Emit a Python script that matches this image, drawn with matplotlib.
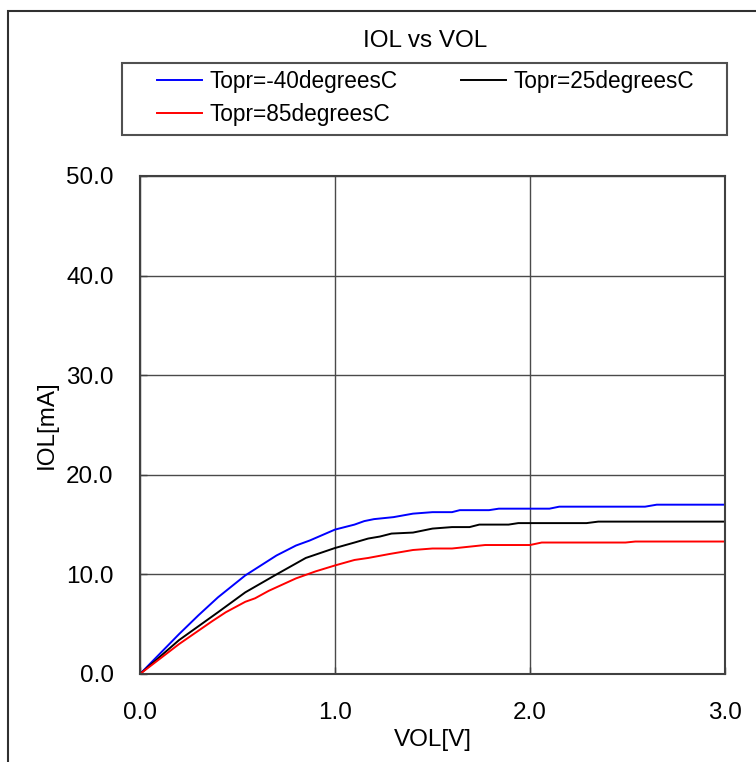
import matplotlib
matplotlib.use("Agg")
import matplotlib.pyplot as plt
from matplotlib.patches import Rectangle
from matplotlib.ticker import FormatStrFormatter

plt.rcParams['font.family'] = ['Liberation Sans', 'DejaVu Sans']

# Data
v_m40 = [0, 0.1, 0.2, 0.3, 0.4, 0.54, 0.7, 0.8, 0.87, 1.0, 1.1, 1.15, 1.2, 1.3,
         1.4, 1.5, 1.6, 1.64, 1.79, 1.84, 2.1, 2.15, 2.59, 2.65, 3.0]
i_m40 = [0, 2.0, 4.0, 5.9, 7.7, 9.9, 11.9, 12.9, 13.4, 14.5, 15.0, 15.35, 15.55, 15.75,
         16.1, 16.25, 16.25, 16.45, 16.45, 16.6, 16.6, 16.8, 16.8, 17.0, 17.0]

v_25 = [0, 0.2, 0.4, 0.54, 0.7, 0.85, 1.0, 1.1, 1.17, 1.23, 1.29, 1.4, 1.5, 1.6,
        1.69, 1.74, 1.89, 1.94, 2.29, 2.35, 3.0]
i_25 = [0, 3.4, 6.2, 8.2, 10.0, 11.65, 12.65, 13.2, 13.6, 13.8, 14.1, 14.2, 14.6, 14.75,
        14.75, 15.0, 15.0, 15.15, 15.15, 15.3, 15.3]

v_85 = [0, 0.2, 0.37, 0.44, 0.54, 0.59, 0.66, 0.8, 0.9, 1.0, 1.1, 1.17, 1.28, 1.4,
        1.5, 1.6, 1.77, 2.0, 2.06, 2.49, 2.54, 3.0]
i_85 = [0, 3.0, 5.3, 6.2, 7.25, 7.6, 8.35, 9.6, 10.3, 10.9, 11.45, 11.65, 12.05, 12.45,
        12.6, 12.6, 12.95, 12.95, 13.2, 13.2, 13.3, 13.3]

labels = ["Topr=-40degreesC", "Topr=25degreesC", "Topr=85degreesC"]
x_ticks = [0.0, 1.0, 2.0, 3.0]
y_ticks = [0.0, 10.0, 20.0, 30.0, 40.0, 50.0]

W, H = 756, 762
fig = plt.figure(figsize=(W / 100, H / 100), dpi=100)
ax = fig.add_axes([140 / W, 1 - 674 / H, (725 - 140) / W, (674 - 176) / H])

l1, = ax.plot(v_m40, i_m40, color='#0000FF', lw=1.4, label=labels[0])
l2, = ax.plot(v_25, i_25, color='#000000', lw=1.4, label=labels[1])
l3, = ax.plot(v_85, i_85, color='#FF0000', lw=1.4, label=labels[2])

ax.set_xlim(0, 3)
ax.set_ylim(0, 50)
ax.set_xticks(x_ticks)
ax.set_yticks(y_ticks)
ax.xaxis.set_major_formatter(FormatStrFormatter('%.1f'))
ax.yaxis.set_major_formatter(FormatStrFormatter('%.1f'))
ax.grid(True, color='#4a4a4a', lw=1.0)
ax.set_axisbelow(True)
for s in ax.spines.values():
    s.set_color('#404040')
    s.set_linewidth(1.5)
ax.tick_params(axis='both', direction='in', length=5, width=1, color='#404040',
               labelsize=17.5)
ax.tick_params(axis='y', pad=19)
ax.tick_params(axis='x', pad=20)
ax.set_xlabel("VOL[V]", fontsize=17.5, labelpad=4)
ax.set_ylabel("IOL[mA]", fontsize=17.5, labelpad=6)

fig.suptitle("IOL vs VOL", x=425 / W, y=1 - 41 / H, va='center', fontsize=17.5)

# legend box
fig.patches.append(Rectangle((122 / W, 1 - 135 / H), (727 - 122) / W, (135 - 63) / H,
                             transform=fig.transFigure, fill=False,
                             edgecolor='#505050', lw=1.5))
# column-major fill: col 1 = -40, 85 ; col 2 = 25
leg = fig.legend(handles=[l1, l3, l2], labels=[labels[0], labels[2], labels[1]],
                 ncol=2, frameon=False,
                 loc='upper left', bbox_to_anchor=(139 / W, 1 - 52 / H),
                 fontsize=16.3, handlelength=2.0, handletextpad=0.3,
                 columnspacing=2.82, labelspacing=0.45, borderpad=0.3)

# outer frame
fig.patches.append(Rectangle((8 / W, -0.05), 1.1, 1.05 - 10.7 / H,
                             transform=fig.transFigure, fill=False,
                             edgecolor='#303030', lw=1.5))

fig.savefig("out.png", dpi=100)
